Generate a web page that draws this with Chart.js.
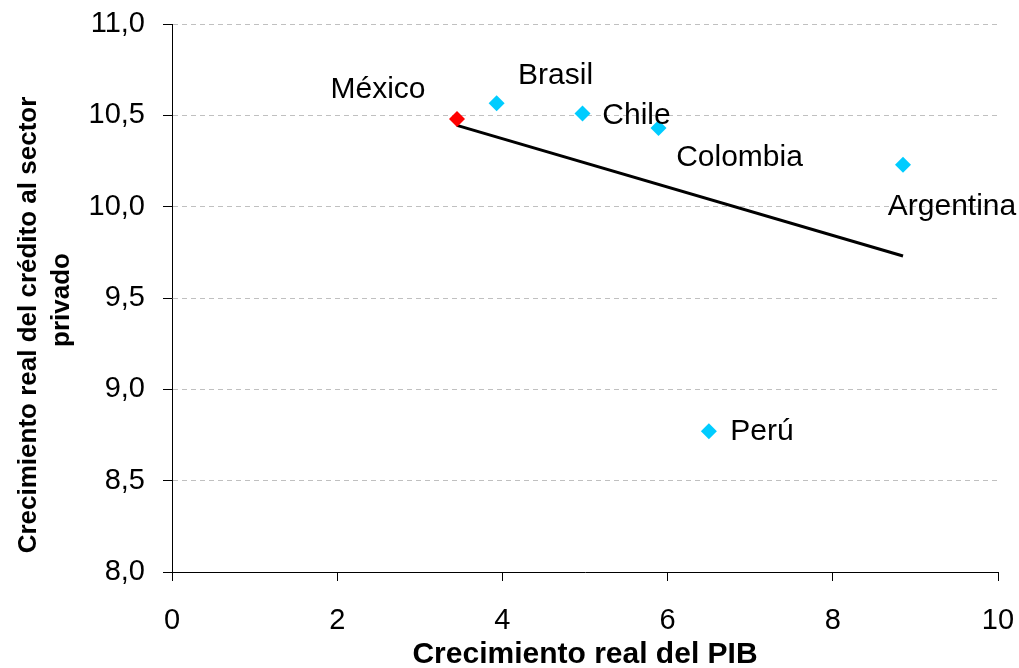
<!DOCTYPE html>
<html>
<head>
<meta charset="utf-8">
<script src="https://cdn.jsdelivr.net/npm/chart.js@4"></script>
<style>
  body { margin: 0; background: #fff; }
  #wrap { width: 1019px; height: 668px; }
</style>
</head>
<body>
<div id="wrap"><canvas id="grafico"></canvas></div>
<script>
// datos
const paises = ['México', 'Brasil', 'Chile', 'Colombia', 'Argentina', 'Perú'];
const crecPIB = [3.45, 3.93, 4.97, 5.89, 8.85, 6.50];
const crecCredito = [10.48, 10.566, 10.51, 10.43, 10.23, 8.77];
const tendenciaX = [3.45, 8.85];
const tendenciaY = [10.445, 9.73];
const ticksY = [8.0, 8.5, 9.0, 9.5, 10.0, 10.5, 11.0];
const ticksX = [0, 2, 4, 6, 8, 10];
const tituloY = ['Crecimiento real del crédito al sector', 'privado'];

// posicion de cada etiqueta respecto al punto (dx, dy)
const offsets = [[-79, -29], [59, -28], [54, 2], [81, 30], [49, 42], [53, 0]];

const fuente = "'Liberation Sans', Arial, sans-serif";

const etiquetas = {
  id: 'etiquetas',
  afterDatasetsDraw(chart) {
    const ctx = chart.ctx;
    const meta = chart.getDatasetMeta(1);
    ctx.save();
    ctx.font = '30px ' + fuente;
    ctx.fillStyle = '#000';
    ctx.textAlign = 'center';
    ctx.textBaseline = 'middle';
    meta.data.forEach(function(p, i) {
      ctx.fillText(paises[i], p.x + offsets[i][0], p.y + offsets[i][1]);
    });
    ctx.restore();
  },
  afterDraw(chart) {
    // titulo del eje Y en dos lineas
    const ctx = chart.ctx;
    const pos = [[29, 325], [62, 300]];
    ctx.save();
    ctx.font = 'bold 26px ' + fuente;
    ctx.fillStyle = '#000';
    ctx.textAlign = 'center';
    ctx.textBaseline = 'middle';
    for (let i = 0; i < tituloY.length; i++) {
      ctx.save();
      ctx.translate(pos[i][0], pos[i][1]);
      ctx.rotate(-Math.PI / 2);
      ctx.fillText(tituloY[i], 0, 0);
      ctx.restore();
    }
    ctx.restore();
  }
};

const puntos = [];
for (let i = 0; i < paises.length; i++) {
  puntos.push({ x: crecPIB[i], y: crecCredito[i] });
}
const linea = [];
for (let i = 0; i < tendenciaX.length; i++) {
  linea.push({ x: tendenciaX[i], y: tendenciaY[i] });
}

function sinPadding(s) {
  s.paddingTop = 0; s.paddingBottom = 0; s.paddingLeft = 0; s.paddingRight = 0;
}

new Chart(document.getElementById('grafico'), {
  type: 'scatter',
  data: {
    datasets: [{
      type: 'line',
      data: linea,
      borderColor: '#000',
      borderWidth: 3,
      pointRadius: 0,
      showLine: true,
      fill: false,
      order: 1
    }, {
      data: puntos,
      pointStyle: 'rectRot',
      pointRadius: 8,
      pointBorderWidth: 0,
      pointBackgroundColor: paises.map(p => p === 'México' ? '#ff0000' : '#00ccff'),
      order: 0
    }]
  },
  options: {
    responsive: true,
    maintainAspectRatio: false,
    animation: false,
    layout: { padding: { top: 24, right: 21, left: 0, bottom: 0 } },
    plugins: { legend: { display: false }, tooltip: { enabled: false } },
    scales: {
      x: {
        min: 0, max: 10,
        afterFit(s) { s.height = 96; sinPadding(s); },
        afterBuildTicks(s) { s.ticks = ticksX.map(v => ({ value: v })); },
        grid: { drawOnChartArea: false, tickLength: 9, tickColor: '#000' },
        border: { color: '#000', width: 1 },
        ticks: { color: '#000', padding: 23, font: { size: 29, family: fuente } },
        title: {
          display: true,
          text: 'Crecimiento real del PIB',
          color: '#000',
          padding: { top: 0, bottom: 0 },
          font: { size: 30, weight: 'bold', family: fuente, lineHeight: 0.9 }
        }
      },
      y: {
        min: 8, max: 11,
        afterFit(s) { s.width = 172; sinPadding(s); },
        afterBuildTicks(s) { s.ticks = ticksY.map(v => ({ value: v })); },
        grid: { color: '#c0c0c0', tickLength: 9, tickColor: '#000', tickBorderDash: [] },
        border: { color: '#000', width: 1, dash: [5, 4] },
        ticks: {
          color: '#000', padding: 18, font: { size: 29, family: fuente },
          callback: v => v.toFixed(1).replace('.', ',')
        }
      }
    }
  },
  plugins: [etiquetas]
});
</script>
</body>
</html>
